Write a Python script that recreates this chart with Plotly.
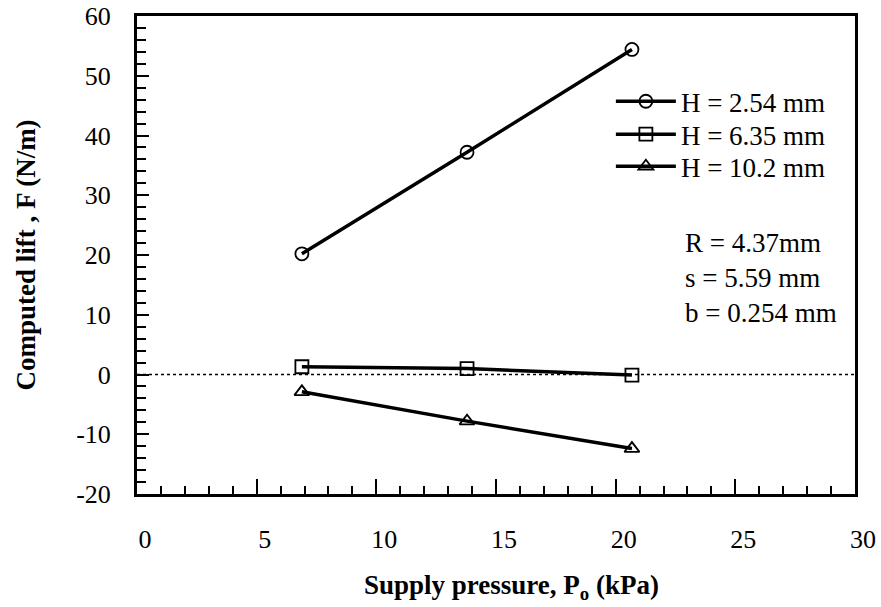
import plotly.graph_objects as go

# Supply pressure (kPa) at which the lift was computed
pressure = [6.89, 13.79, 20.68]

# Computed lift F (N/m) for each gap height H
lift_h254 = [20.2, 37.2, 54.4]
lift_h635 = [1.3, 1.0, -0.1]
lift_h102 = [-2.9, -7.8, -12.4]

series_names = ["H = 2.54 mm", "H = 6.35 mm", "H = 10.2 mm"]
series_symbols = ["circle-open", "square-open", "triangle-up-open"]

x_ticks = [0, 5, 10, 15, 20, 25, 30]
y_ticks = [-20, -10, 0, 10, 20, 30, 40, 50, 60]

params_text = "R = 4.37mm<br>s = 5.59 mm<br>b = 0.254 mm"
x_title = "<b>Supply pressure, P<sub>o</sub> (kPa)</b>"
y_title = "<b>Computed lift , F (N/m)</b>"

FONT = "Liberation Serif, Times New Roman, serif"

# one single-entry legend per series so the rows can be spaced tightly
legend_ids = ["legend", "legend2", "legend3"]
legend_tops = [0.872, 0.803, 0.736]

fig = go.Figure()
for name, sym, vals, lid in zip(series_names, series_symbols,
                                [lift_h254, lift_h635, lift_h102], legend_ids):
    fig.add_trace(go.Scatter(
        x=pressure, y=vals, name=name, mode="lines+markers", legend=lid,
        line=dict(color="black", width=3.5),
        marker=dict(symbol=sym, size=13, color="black", line=dict(width=1.8, color="black")),
    ))

# dotted zero reference line across the plot
fig.add_shape(type="line", xref="paper", yref="y", x0=0, x1=1, y0=0, y1=0,
              line=dict(color="black", width=1.5, dash="3px,3px"))

fig.add_annotation(text=params_text, xref="paper", yref="paper", x=0.76, y=0.56,
                   xanchor="left", yanchor="top", align="left", showarrow=False,
                   font=dict(family=FONT, size=27, color="black"))

# x-axis title
fig.add_annotation(text=x_title, xref="paper", yref="paper", x=0.522, y=-0.155,
                   xanchor="center", yanchor="top", showarrow=False,
                   font=dict(family=FONT, size=27, color="black"))

legend_style = dict(xanchor="left", yanchor="top", bgcolor="rgba(0,0,0,0)",
                    font=dict(family=FONT, size=27, color="black"), itemwidth=60)

fig.update_layout(
    width=881, height=607,
    margin=dict(l=137, r=26, t=16, b=113),
    paper_bgcolor="white", plot_bgcolor="white",
    font=dict(family=FONT, color="black", size=26),
    showlegend=True,
    legend=dict(x=0.66, y=legend_tops[0], **legend_style),
    legend2=dict(x=0.66, y=legend_tops[1], **legend_style),
    legend3=dict(x=0.66, y=legend_tops[2], **legend_style),
)

fig.update_xaxes(
    range=[0, 30], tickvals=x_ticks, ticktext=[str(v) for v in x_ticks],
    showline=True, linecolor="black", linewidth=3, mirror=True,
    ticks="inside", ticklen=15, tickwidth=2, tickcolor="black",
    minor=dict(dtick=1, ticks="inside", ticklen=8, tickwidth=2, tickcolor="black"),
    showgrid=False, zeroline=False, ticklabelstandoff=20, ticklabelshift=8,
    tickfont=dict(family=FONT, size=26),
    automargin=False,
)
fig.update_yaxes(
    range=[-20, 60], tickvals=y_ticks, ticktext=[str(v) for v in y_ticks],
    showline=True, linecolor="black", linewidth=3, mirror=True,
    ticks="inside", ticklen=12, tickwidth=2, tickcolor="black",
    minor=dict(dtick=2, ticks="inside", ticklen=9, tickwidth=2, tickcolor="black"),
    showgrid=False, zeroline=False, ticklabelstandoff=18,
    tickfont=dict(family=FONT, size=26),
    title=dict(text=y_title, font=dict(family=FONT, size=27), standoff=33),
    automargin=False,
)

fig.write_html("out.html")
